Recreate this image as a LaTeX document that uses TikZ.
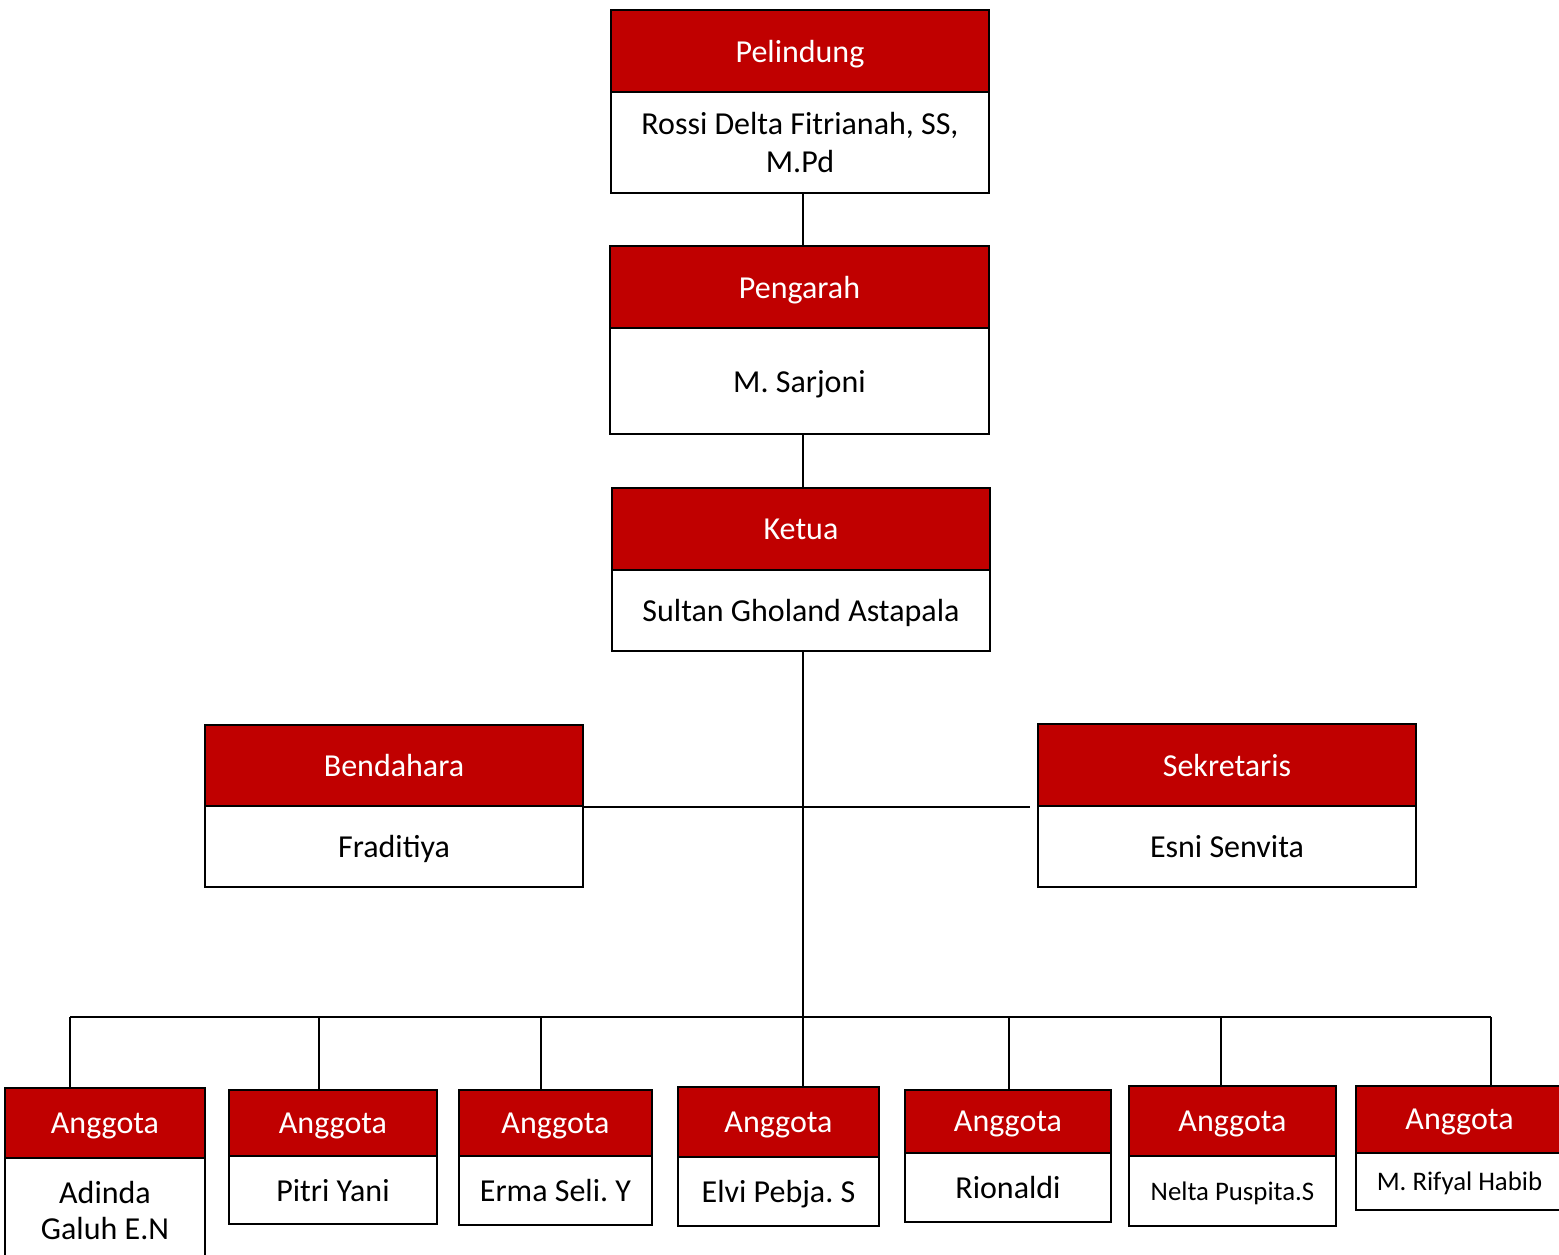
\documentclass[tikz,border=0pt]{standalone}
\usepackage{fontspec}
\setmainfont{Carlito}
\usetikzlibrary{positioning}
\frenchspacing

\begin{document}
\begin{tikzpicture}[x=0.5pt, y=-0.5pt]
        % --- WARNA & GAYA ---
        \definecolor{merahJudul}{RGB}{192, 0, 0}   % merah kepala kotak

        \tikzset{
            judul/.style={draw=black, fill=merahJudul, text=white, line width=1.4pt, text depth=0pt,
                inner sep=0pt, outer sep=0pt, align=center, font=\fontsize{16}{19}\selectfont},
            isi/.style={draw=black, fill=white, text=black, line width=1.4pt, text depth=0pt,
                inner sep=0pt, outer sep=0pt, align=center, font=\fontsize{16}{19}\selectfont},
            garis/.style={line width=1pt, black}
        }

        \useasboundingbox (0,0) rectangle (1559,1254);

        % --- PIMPINAN ---
        \node[judul, minimum width=189pt, minimum height=41pt] (pelindung) at (800,51) {Pelindung};
        \node[isi, minimum width=189pt, minimum height=50.5pt, below=0pt of pelindung] (pelindungIsi)
            {Rossi Delta Fitrianah, SS,\\M.Pd};

        \node[judul, minimum width=189.5pt, minimum height=41pt] (pengarah) at (799.5,287) {Pengarah};
        \node[isi, minimum width=189.5pt, minimum height=53pt, below=0pt of pengarah] (pengarahIsi) {M. Sarjoni};

        \node[judul, minimum width=189pt, minimum height=41pt] (ketua) at (801,529) {Ketua};
        \node[isi, minimum width=189pt, minimum height=40.5pt, below=0pt of ketua] (ketuaIsi) {Sultan Gholand Astapala};

        % --- BENDAHARA & SEKRETARIS ---
        \node[judul, minimum width=189pt, minimum height=40.5pt] (bendahara) at (394,765.5) {Bendahara};
        \node[isi, minimum width=189pt, minimum height=40.5pt, below=0pt of bendahara] (bendaharaIsi) {Fraditiya};

        \node[judul, minimum width=189pt, minimum height=41pt] (sekretaris) at (1227,765) {Sekretaris};
        \node[isi, minimum width=189pt, minimum height=40.5pt, below=0pt of sekretaris] (sekretarisIsi) {Esni Senvita};

        % --- ANGGOTA ---
        \node[judul, minimum width=100pt, minimum height=35pt] (a1) at (105,1123) {Anggota};
        \node[isi, minimum width=100pt, minimum height=52pt, below=0pt of a1, font=\fontsize{16}{18}\selectfont] (a1Isi) {Adinda\\Galuh E.N};

        \node[judul, minimum width=104pt, minimum height=33pt] (a2) at (333,1123) {Anggota};
        \node[isi, minimum width=104pt, minimum height=34pt, below=0pt of a2] (a2Isi) {Pitri Yani};

        \node[judul, minimum width=96.5pt, minimum height=33pt] (a3) at (555.5,1123) {Anggota};
        \node[isi, minimum width=96.5pt, minimum height=34.5pt, below=0pt of a3] (a3Isi) {Erma Seli. Y};

        \node[judul, minimum width=100.5pt, minimum height=35pt] (a4) at (778.5,1122) {Anggota};
        \node[isi, minimum width=100.5pt, minimum height=34.5pt, below=0pt of a4] (a4Isi) {Elvi Pebja. S};

        \node[judul, minimum width=103pt, minimum height=31.5pt] (a5) at (1008,1121.5) {Anggota};
        \node[isi, minimum width=103pt, minimum height=34.5pt, below=0pt of a5] (a5Isi) {Rionaldi};

        \node[judul, minimum width=103.5pt, minimum height=35pt] (a6) at (1232.5,1121) {Anggota};
        \node[isi, minimum width=103.5pt, minimum height=35pt, below=0pt of a6, font=\fontsize{13.4}{16}\selectfont] (a6Isi) {Nelta Puspita.S};

        \node[judul, minimum width=103.5pt, minimum height=33.5pt] (a7) at (1459.5,1119.5) {Anggota};
        \node[isi, minimum width=103.5pt, minimum height=28.5pt, below=0pt of a7, font=\fontsize{13.4}{16}\selectfont] (a7Isi) {M. Rifyal Habib};

        % --- GARIS PENGHUBUNG ---
        \coordinate (poros) at (803,1017);
        \coordinate (ujungSek) at (1030,807);
        \coordinate (t1) at (70,1017);
        \coordinate (t2) at (319,1017);
        \coordinate (t3) at (541,1017);
        \coordinate (t5) at (1009,1017);
        \coordinate (t6) at (1221,1017);
        \coordinate (t7) at (1491,1017);

        % Garis tengah (atas ke bawah)
        \draw[garis] (pelindungIsi.south -| poros) -- (pengarah.north -| poros);
        \draw[garis] (pengarahIsi.south -| poros) -- (ketua.north -| poros);
        \draw[garis] (ketuaIsi.south -| poros) -- (a4.north -| poros);

        % Bendahara -- Sekretaris
        \draw[garis] (bendaharaIsi.north east |- ujungSek) -- (ujungSek);

        % Garis anggota
        \draw[garis] (t1) -- (t7);
        \foreach \t/\a in {t1/a1, t2/a2, t3/a3, t5/a5, t6/a6, t7/a7}
            \draw[garis] (\t) -- (\t |- \a.north);

    \end{tikzpicture}
\end{document}
